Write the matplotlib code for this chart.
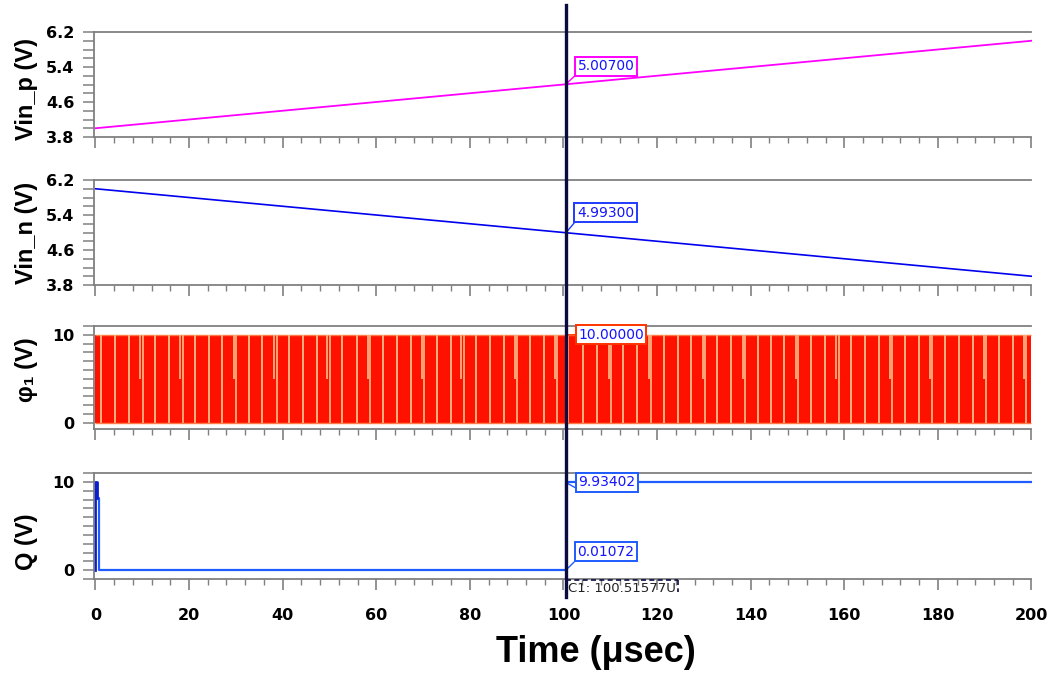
import matplotlib
matplotlib.use("Agg")
import matplotlib.pyplot as plt
from matplotlib import font_manager
from matplotlib.ticker import MultipleLocator
from matplotlib.transforms import blended_transform_factory
from matplotlib.lines import Line2D

# ---------------- data ----------------
cursor_t = 100.51577

vinp_t = [0, 200]
vinp_v = [4.0, 6.0]
vinp_cursor = 5.00700

vinn_t = [0, 200]
vinn_v = [6.0, 4.0]
vinn_cursor = 4.99300

phi_high = 10.0
phi_cursor = 10.00000
# positions (usec) of the light single-line gaps in the clock trace
phi_full_gaps = [1.28, 4.28, 7.18, 12.83, 15.67, 21.29, 24.22, 27.15, 32.77, 35.70,
                 41.39, 44.38, 47.25, 52.72, 55.80, 61.36, 64.35, 67.34, 72.90, 75.90,
                 81.31, 84.30, 87.29, 92.85, 95.84, 101.04, 104.24, 107.24, 112.80,
                 115.79, 121.50, 124.43, 127.27, 132.89, 135.76, 141.53, 144.37,
                 147.15, 152.93, 155.92, 161.41, 164.47, 167.46, 172.87, 175.86,
                 181.42, 184.41, 187.41, 192.96, 195.96]
# positions of the gaps that are double in the upper half
phi_half_gaps = [9.83, 18.39, 29.85, 38.48, 49.77, 58.49, 70.04, 78.46, 89.92, 98.47,
                 109.95, 118.50, 130.05, 138.60, 149.87, 158.55, 170.03, 178.58,
                 190.12, 198.67]

q_t = [0.0, 0.75, 0.75, 100.51577, 100.51577, 200.0]
q_v = [8.2, 8.2, 0.0, 0.0, 9.93402, 9.93402]
q_spike_t = [0.0, 0.0, 0.4, 0.4]
q_spike_v = [0.0, 10.0, 10.0, 8.2]
q_high_cursor = 9.93402
q_low_cursor = 0.01072

xticks_major = 20
xticks_minor = 4

# ---------------- fonts ----------------
def find_font(name, weight=700):
    for f in font_manager.fontManager.ttflist:
        if f.name == name and f.weight == weight and f.style == "normal":
            low = f.fname.lower()
            if "narrow" in low or "condensed" in low:
                continue
            return f.fname
    return None

arial_bold = find_font("Liberation Sans", 700)
if arial_bold:
    LABFONT = font_manager.FontProperties(fname=arial_bold)
else:
    LABFONT = font_manager.FontProperties(family="DejaVu Sans", weight="bold")

plt.rcParams["font.family"] = ["DejaVu Sans"]
plt.rcParams["font.weight"] = "bold"

W, H = 1048, 673
fig = plt.figure(figsize=(W / 100, H / 100), dpi=100)

def rect(top, bottom):
    return [94 / W, 1 - bottom / H, (1031.5 - 94) / W, (bottom - top) / H]

ax1 = fig.add_axes(rect(32, 137))
ax2 = fig.add_axes(rect(180, 285))
ax3 = fig.add_axes(rect(326, 429))
ax4 = fig.add_axes(rect(473, 579))
axes = [ax1, ax2, ax3, ax4]

GRAY = "#808080"
for ax in axes:
    ax.set_xlim(-0.3, 200)
    for s in ["left", "top", "bottom"]:
        ax.spines[s].set_color(GRAY)
        ax.spines[s].set_linewidth(1.3)
    ax.spines["right"].set_visible(False)
    ax.xaxis.set_major_locator(MultipleLocator(xticks_major))
    ax.xaxis.set_minor_locator(MultipleLocator(xticks_minor))
    ax.tick_params(axis="x", which="major", direction="out", length=8, width=1.2,
                   color=GRAY, pad=13, labelsize=11.5)
    ax.tick_params(axis="x", which="minor", direction="out", length=4, width=1.0,
                   color=GRAY)
    ax.tick_params(axis="y", which="both", direction="out", length=8, width=1.1,
                   color=GRAY, pad=6, labelsize=11.5)
    if ax is not ax4:
        ax.tick_params(axis="x", labelbottom=False)

for ax in (ax1, ax2):
    ax.set_ylim(3.8, 6.2)
    ax.yaxis.set_minor_locator(MultipleLocator(0.2))
    ax.set_yticks([3.8, 4.6, 5.4, 6.2])
    ax.set_yticklabels(["3.8", "4.6", "5.4", "6.2"])

ax3.set_ylim(-0.7, 11)
ax4.set_ylim(-1, 11)
for ax in (ax3, ax4):
    ax.set_yticks([0, 10])
    ax.yaxis.set_minor_locator(MultipleLocator(1))

# traces
ax1.plot(vinp_t, vinp_v, color="#ff00ff", lw=1.3)
ax2.plot(vinn_t, vinn_v, color="#0000ee", lw=1.2)

RED = "#ff1100"
PEACH = "#ffb080"
ax3.fill_between([0, 200], 0, phi_high, color=RED, lw=0)
ax3.hlines([0, phi_high], 0, 200, color="#ff7a45", lw=1.0)
ax3.vlines(phi_full_gaps, 0, phi_high, color=PEACH, lw=1.4)
ax3.vlines([t - 0.25 for t in phi_half_gaps], phi_high / 2, phi_high, color=PEACH, lw=1.3)
ax3.vlines([t + 0.25 for t in phi_half_gaps], 0, phi_high, color=PEACH, lw=1.3)

QBLUE = "#1f5cff"
ax4.plot(q_t, q_v, color=QBLUE, lw=1.6)
ax4.plot(q_spike_t, q_spike_v, color="#0a1fd0", lw=2.0)

# cursor line spanning the figure
trans = blended_transform_factory(ax4.transData, fig.transFigure)
fig.add_artist(Line2D([cursor_t, cursor_t], [1 - 597 / H, 1 - 5 / H], transform=trans,
                      color="#0b0b40", lw=2.4, zorder=10))

# cursor labels
TXT = "#1414ff"
def tag(ax, y, label, ec, off, relpos=(0, 0)):
    ax.annotate(label, xy=(cursor_t, y), xytext=off, textcoords="offset points",
                ha="center", va="center", fontsize=10, fontweight="normal",
                color=TXT, zorder=12, annotation_clip=False,
                bbox=dict(boxstyle="square,pad=0.18", fc="white", ec=ec, lw=1.4),
                arrowprops=dict(arrowstyle="-", color=ec, lw=1.0, relpos=relpos,
                                shrinkA=0, shrinkB=0))

tag(ax1, vinp_cursor, "5.00700", "#ff00ff", (29, 13))
tag(ax2, vinn_cursor, "4.99300", "#1f3cff", (28.5, 14.4))
tag(ax3, phi_cursor, "10.00000", "#ff3300", (32.5, 0), relpos=(0, 0.5))
tag(ax4, q_high_cursor, "9.93402", QBLUE, (29.5, 0), relpos=(0, 0))
tag(ax4, q_low_cursor, "0.01072", QBLUE, (28.8, 13.1))

# C1 readout
c1_right = 124.5
fig.add_artist(Line2D([cursor_t, c1_right], [1 - 580 / H, 1 - 580 / H], transform=trans,
                      color="#0b0b40", lw=1.2, ls=(0, (3, 2)), zorder=11))
fig.add_artist(Line2D([c1_right, c1_right], [1 - 580 / H, 1 - 592 / H], transform=trans,
                      color="#0b0b40", lw=1.2, ls=(0, (3, 2)), zorder=11))
fig.text(568 / W, 1 - 588 / H, "C1: 100.51577U", ha="left", va="center",
         fontsize=9.5, fontweight="normal", color="#222222")

# axis labels
def ylab(y, s):
    fig.text(26 / W, 1 - y / H, s, rotation=90, ha="center", va="center",
             fontproperties=LABFONT, fontsize=17)

ylab(89, "Vin_p (V)")
ylab(233, "Vin_n (V)")
ylab(370, "\u03c6\u2081 (V)")
ylab(542, "Q (V)")
fig.text(596 / W, 1 - 653 / H, "Time (\u03bcsec)", ha="center", va="center",
         fontproperties=LABFONT, fontsize=26)

fig.savefig("out.png", dpi=100)
